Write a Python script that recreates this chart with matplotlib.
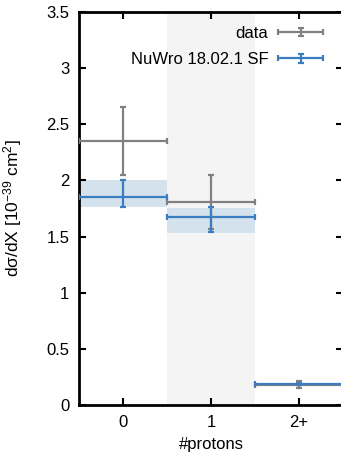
import matplotlib
matplotlib.use("Agg")
import matplotlib.pyplot as plt
from matplotlib.container import ErrorbarContainer
from matplotlib.legend_handler import HandlerErrorbar
import numpy as np

plt.rcParams['font.family'] = ['Liberation Sans', 'DejaVu Sans']
plt.rcParams['mathtext.default'] = 'regular'

categories = ["0", "1", "2+"]
data_vals = [2.35, 1.81, 0.18]
data_err = [0.30, 0.24, 0.03]
mc_vals = [1.85, 1.67, 0.19]
mc_err_lo = [0.09, 0.13, 0.01]
mc_err_hi = [0.15, 0.09, 0.01]
band_lo = [1.76, 1.535, 0.18]
band_hi = [2.00, 1.757, 0.20]

grey = "#808080"
blue = "#3a7dc0"

fig = plt.figure(figsize=(3.41, 4.54), dpi=100)
ax = fig.add_axes([79/341, 1-405/454, (343-79)/341, (405-12)/454])

x = np.arange(len(categories))
ax.axvspan(0.5, 1.5, color="#f4f4f4", zorder=0, lw=0)
for i in range(len(categories)):
    ax.fill_between([x[i]-0.5, x[i]+0.5], band_lo[i], band_hi[i],
                    color="#d4e2ee", lw=0, zorder=1)

ax.errorbar(x, data_vals, xerr=0.5, yerr=data_err, fmt='none', ecolor=grey,
            elinewidth=1.6, capsize=2.5, capthick=1.6, label="data", zorder=3)
ax.errorbar(x, mc_vals, xerr=0.5, yerr=[mc_err_lo, mc_err_hi], fmt='none',
            ecolor=blue, elinewidth=1.6, capsize=2.5, capthick=1.6,
            label="NuWro 18.02.1 SF", zorder=4)

ax.set_xlim(-0.5, 2.5)
ax.set_ylim(0, 3.5)
ax.set_xticks(x)
ax.set_xticklabels(categories)
ax.set_yticks(np.arange(0, 3.51, 0.5))
ax.set_yticklabels(["0", "0.5", "1", "1.5", "2", "2.5", "3", "3.5"])
ax.tick_params(direction='in', top=True, right=True, length=5, width=1.5,
               labelsize=12, pad=7)
for s in ax.spines.values():
    s.set_linewidth(2)
ax.spines['right'].set_visible(False)

ax.set_xlabel("#protons", fontsize=12, labelpad=5)
ax.set_ylabel("dσ/dX [10$^{-39}$ cm$^{2}$]", fontsize=12.5)
ax.yaxis.set_label_coords(-55/264, 0.5)

leg = ax.legend(loc='upper right', bbox_to_anchor=(0.97, 0.995), frameon=False,
                markerfirst=False, fontsize=12, handlelength=2.7,
                handletextpad=0.6, labelspacing=0.7, borderaxespad=0.3,
                handler_map={ErrorbarContainer: HandlerErrorbar(xerr_size=1.35, yerr_size=0.25)})

fig.savefig("out.png", dpi=100)
